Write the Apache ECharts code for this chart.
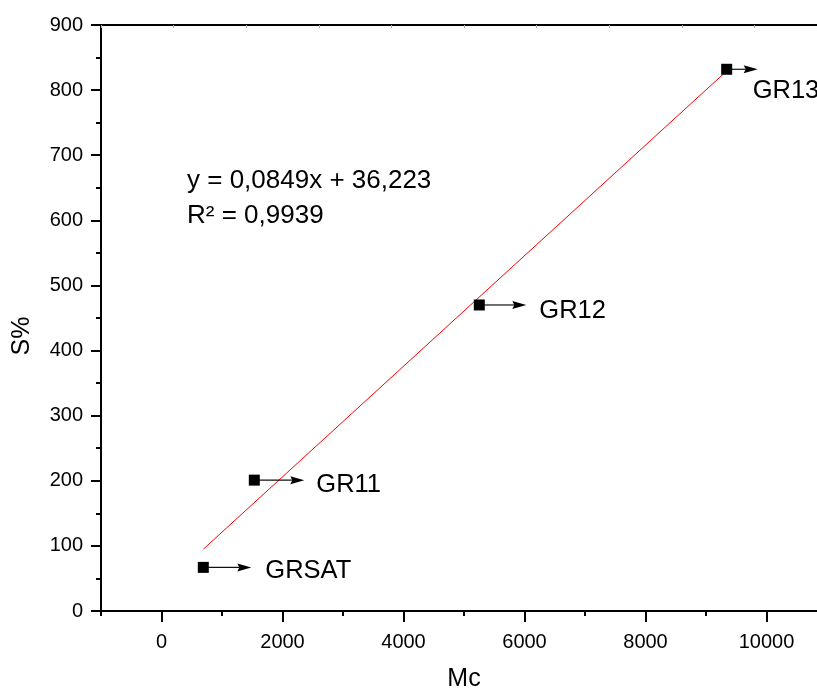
<!DOCTYPE html>
<html>
<head>
<meta charset="utf-8">
<script src="https://cdn.jsdelivr.net/npm/echarts@6/dist/echarts.min.js"></script>
<style>
html,body{margin:0;padding:0;background:#fff;overflow:hidden;width:817px;height:696px;}
#chart{width:840px;height:696px;}
</style>
</head>
<body>
<div id="chart"></div>
<script>
// ---- data ----
const sampleNames = ['GRSAT', 'GR11', 'GR12', 'GR13'];
const mcValues = [691, 1534, 5253, 9342];
const sValues = [67, 201, 470, 832];
const trendSlope = 0.0849;
const trendIntercept = 36.223;
const equationLines = ['y = 0,0849x + 36,223', 'R\u00b2 = 0,9939'];
const xTickLabels = [0, 2000, 4000, 6000, 8000, 10000];
const yTickLabels = [0, 100, 200, 300, 400, 500, 600, 700, 800, 900];

// ---- style (not data) ----
const arrowLen = [48, 50, 47, 31];
const labelDx = [62, 62, 60, 26];
const labelDy = [4, 5, 6, 22];
const FONT = 'Liberation Sans, Arial, sans-serif';

const points = mcValues.map((x, i) => [x, sValues[i]]);
const xMinData = Math.min(...mcValues), xMaxData = Math.max(...mcValues);
const trend = [
  [xMinData, trendSlope * xMinData + trendIntercept],
  [xMaxData, trendSlope * xMaxData + trendIntercept]
];

const chart = echarts.init(document.getElementById('chart'), null, {renderer: 'canvas'});
const option = {
  animation: false,
  backgroundColor: '#fff',
  grid: {left: 101, top: 25, width: 726, height: 586, containLabel: false},
  xAxis: [
    {
      type: 'value', min: -1000, max: 11000, position: 'bottom',
      axisLine: {show: true, onZero: false, lineStyle: {color: '#000', width: 2}},
      axisTick: {show: true, inside: false, length: 11, lineStyle: {color: '#000', width: 2}, customValues: xTickLabels},
      axisLabel: {show: true, margin: 21, color: '#000', fontSize: 20, fontFamily: FONT, customValues: xTickLabels,
        formatter: v => String(v)},
      splitLine: {show: false}
    },
    {
      type: 'value', min: -1000, max: 11000, interval: 1000, position: 'bottom',
      axisLine: {show: false, onZero: false},
      axisTick: {show: true, inside: false, length: 5, lineStyle: {color: '#000', width: 2}},
      axisLabel: {show: false},
      splitLine: {show: false}
    },
    {
      type: 'value', min: 0, max: 10, interval: 1, position: 'top',
      axisLine: {show: true, onZero: false, lineStyle: {color: '#000', width: 2}},
      axisTick: {show: true, inside: true, length: 3, lineStyle: {color: '#aaa', width: 1}},
      axisLabel: {show: false},
      splitLine: {show: false}
    }
  ],
  yAxis: [
    {
      type: 'value', min: 0, max: 900, interval: 100,
      axisLine: {show: true, onZero: false, lineStyle: {color: '#000', width: 2}},
      axisTick: {show: true, inside: false, length: 10, lineStyle: {color: '#000', width: 2}},
      minorTick: {show: true, splitNumber: 2, length: 5, lineStyle: {color: '#000', width: 2}},
      axisLabel: {show: true, margin: 18, color: '#000', fontSize: 20, fontFamily: FONT,
        formatter: v => yTickLabels.includes(v) ? String(v) : ''},
      splitLine: {show: false}
    }
  ],
  graphic: [
    {
      type: 'text', left: 187, top: 163, z: 10,
      style: {text: equationLines.join('\n'), fontSize: 26, fontFamily: FONT, fill: '#000', lineHeight: 35}
    },
    {
      type: 'text', x: 22, y: 336, rotation: Math.PI / 2, z: 10,
      style: {text: 'S%', fontSize: 25, fontFamily: FONT, fill: '#000', align: 'center', verticalAlign: 'middle'}
    },
    {
      type: 'text', x: 464, y: 679, z: 10,
      style: {text: 'Mc', fontSize: 25, fontFamily: FONT, fill: '#000', align: 'center', verticalAlign: 'middle'}
    }
  ],
  series: [
    {
      type: 'line', xAxisIndex: 0, yAxisIndex: 0, data: trend, showSymbol: false, symbol: 'none',
      lineStyle: {color: '#ff0000', width: 1}, z: 2, silent: true
    },
    {
      type: 'custom', xAxisIndex: 0, yAxisIndex: 0, data: points, clip: false, z: 3,
      renderItem: function (params, api) {
        const i = params.dataIndex;
        const p = api.coord([api.value(0), api.value(1)]);
        const tip = p[0] + arrowLen[i];
        const headLen = 14, headHalf = 4;
        return {
          type: 'group',
          children: [
            {type: 'line', shape: {x1: p[0] + 5, y1: p[1], x2: tip - headLen + 2, y2: p[1]},
              style: {stroke: '#111', lineWidth: 1.2}},
            {type: 'polygon', shape: {points: [[tip, p[1]], [tip - headLen, p[1] - headHalf], [tip - headLen + 2, p[1]], [tip - headLen, p[1] + headHalf]]},
              style: {fill: '#000'}},
            {type: 'text', x: p[0] + labelDx[i], y: p[1] + labelDy[i],
              style: {text: sampleNames[i], fontSize: 25.5, fontFamily: FONT, fill: '#000', align: 'left', verticalAlign: 'middle'}}
          ]
        };
      }
    },
    {
      type: 'scatter', xAxisIndex: 0, yAxisIndex: 0, data: points, symbol: 'rect', symbolSize: 11,
      itemStyle: {color: '#000', opacity: 1}, z: 4
    }
  ]
};
chart.setOption(option);
</script>
</body>
</html>
